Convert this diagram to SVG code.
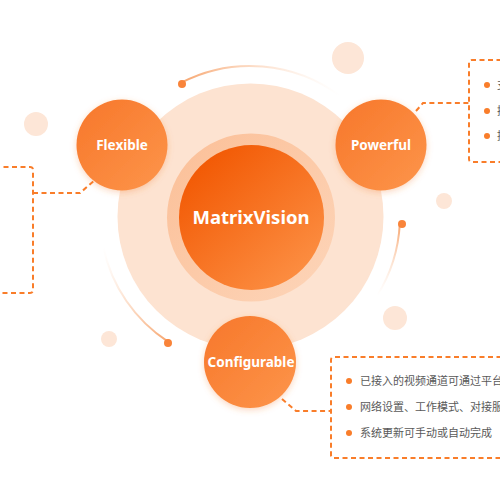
<svg xmlns="http://www.w3.org/2000/svg" width="500" height="500" viewBox="0 0 500 500">
<defs>
<style>
.node-text{font-family:"Noto Sans","Liberation Sans",sans-serif;font-weight:bold;fill:#fff;text-anchor:middle}
.item{font-family:"Noto Sans CJK SC","Noto Sans",sans-serif;font-size:11px;fill:#595959}
.dash{fill:none;stroke:#f97d2a;stroke-width:2;stroke-dasharray:5 3.5}
.bullet{fill:#f97d2a}
.deco{fill:#fde6d7}
.dot{fill:#f9843a}
</style>
<linearGradient id="gNode" x1="0" y1="0" x2="1" y2="1">
<stop offset="0" stop-color="#f7772a"/>
<stop offset="1" stop-color="#fd954b"/>
</linearGradient>
<linearGradient id="gCore" x1="0.15" y1="0.1" x2="0.85" y2="0.9">
<stop offset="0" stop-color="#f25904"/>
<stop offset="1" stop-color="#fc8e42"/>
</linearGradient>
<linearGradient id="gRing" x1="0" y1="0" x2="1" y2="1">
<stop offset="0" stop-color="#fbbf97"/>
<stop offset="1" stop-color="#fdd5b9"/>
</linearGradient>
<linearGradient id="aTop" gradientUnits="userSpaceOnUse" x1="181" y1="83" x2="340" y2="96">
<stop offset="0" stop-color="#f7a56e"/>
<stop offset="1" stop-color="#fde3d1" stop-opacity="0"/>
</linearGradient>
<linearGradient id="aRight" gradientUnits="userSpaceOnUse" x1="400" y1="224" x2="377" y2="296">
<stop offset="0" stop-color="#f7a56e"/>
<stop offset="1" stop-color="#fde3d1" stop-opacity="0"/>
</linearGradient>
<linearGradient id="aLeft" gradientUnits="userSpaceOnUse" x1="168" y1="342" x2="103" y2="247">
<stop offset="0" stop-color="#f7a56e"/>
<stop offset="1" stop-color="#fde3d1" stop-opacity="0"/>
</linearGradient>
<filter id="sh" x="-30%" y="-30%" width="160%" height="160%">
<feDropShadow dx="0" dy="2" stdDeviation="3" flood-color="#f27a2a" flood-opacity="0.3"/>
</filter>
</defs>
<rect width="500" height="500" fill="#fff"/>

<g id="decoration">
<circle class="deco" cx="36" cy="124" r="12"/>
<circle class="deco" cx="348" cy="58" r="16"/>
<circle class="deco" cx="444" cy="201" r="8"/>
<circle class="deco" cx="109" cy="339" r="8"/>
<circle class="deco" cx="395" cy="318" r="12"/>
<circle cx="250.5" cy="216.5" r="133" fill="#fde3d1"/>
<path d="M181.2,82.7 A150,150 0 0 1 340.3,96.2" fill="none" stroke="url(#aTop)" stroke-width="2"/>
<path d="M399.8,223.8 A150,150 0 0 1 377.2,295.5" fill="none" stroke="url(#aRight)" stroke-width="2"/>
<path d="M168.3,341.8 A150,150 0 0 1 103.3,247.2" fill="none" stroke="url(#aLeft)" stroke-width="2"/>
<circle class="dot" cx="182" cy="84" r="4"/>
<circle class="dot" cx="402" cy="224" r="4"/>
<circle class="dot" cx="168" cy="343" r="4"/>
</g>

<g id="connectors">
<path class="dash" d="M-5,167 H30 Q33,167 33,170 V290 Q33,293 30,293 H-5"/>
<path class="dash" d="M33,193 H80 L95,180"/>
<path class="dash" d="M510,60 H472 Q469,60 469,63 V159 Q469,162 472,162 H510"/>
<path class="dash" d="M416,111 L423,103 H469"/>
<path class="dash" d="M510,357 H334 Q331,357 331,360 V455 Q331,458 334,458 H510"/>
<path class="dash" d="M282,399 L296,411 H331"/>
</g>

<g id="core">
<circle cx="251" cy="217.5" r="84" fill="url(#gRing)"/>
<circle cx="251.5" cy="217.5" r="72.5" fill="url(#gCore)"/>
<text class="node-text" x="251" y="224" font-size="18.5">MatrixVision</text>
</g>

<g id="flexible">
<circle cx="122" cy="145" r="45.5" fill="url(#gNode)" filter="url(#sh)"/>
<text class="node-text" x="122" y="150" font-size="13.5">Flexible</text>
</g>

<g id="powerful">
<circle cx="381" cy="145" r="45.5" fill="url(#gNode)" filter="url(#sh)"/>
<text class="node-text" x="381" y="150" font-size="13.5">Powerful</text>
<circle class="bullet" cx="487" cy="85" r="3"/>
<circle class="bullet" cx="487" cy="111" r="3"/>
<circle class="bullet" cx="487" cy="136" r="3"/>
<text class="item" x="497" y="89">支持多种协议</text>
<text class="item" x="497" y="115">接入多路视频</text>
<text class="item" x="497" y="140">提供开放接口</text>
</g>

<g id="configurable">
<circle cx="250" cy="362" r="46" fill="url(#gNode)" filter="url(#sh)"/>
<text class="node-text" x="251" y="367" font-size="13.5">Configurable</text>
<circle class="bullet" cx="349" cy="381" r="3"/>
<circle class="bullet" cx="349" cy="407" r="3"/>
<circle class="bullet" cx="349" cy="433" r="3"/>
<text class="item" x="360" y="385">已接入的视频通道可通过平台进行配置</text>
<text class="item" x="360" y="411">网络设置、工作模式、对接服务器可配置</text>
<text class="item" x="360" y="437">系统更新可手动或自动完成</text>
</g>
</svg>
